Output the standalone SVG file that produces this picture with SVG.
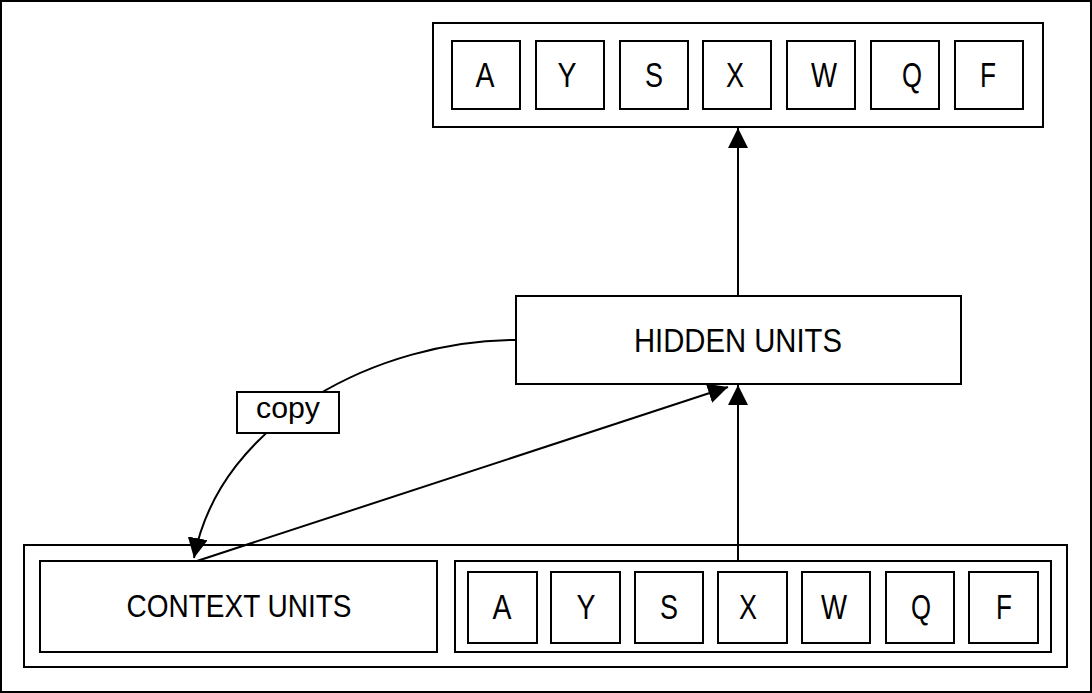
<svg xmlns="http://www.w3.org/2000/svg" width="1092" height="693" viewBox="0 0 1092 693">
<style>
.box{fill:#fff;stroke:#000;stroke-width:2}
.frame{fill:none;stroke:#000;stroke-width:2}
.edge{fill:none;stroke:#000;stroke-width:2}
.t{font-family:"Liberation Sans",Arial,sans-serif;font-size:33px;fill:#000;text-anchor:middle}
.c{font-family:"Liberation Sans",Arial,sans-serif;font-size:31px;fill:#000;text-anchor:middle}
.p{font-family:"Liberation Sans",Arial,sans-serif;font-size:29px;fill:#000;text-anchor:middle}
.l{font-family:"Liberation Sans",Arial,sans-serif;font-size:35px;fill:#000;text-anchor:middle}
</style>
<defs>
<marker id="arr" markerUnits="userSpaceOnUse" markerWidth="20" markerHeight="20" refX="18" refY="9" orient="auto" viewBox="0 0 18 18">
<path d="M0,0 L18,9 L0,18 z" fill="#000"/>
</marker>
</defs>
<rect x="1" y="1" width="1090" height="691" fill="#fff" stroke="#000" stroke-width="2"/>
<g id="connectors">
<line class="edge" x1="738" y1="296" x2="738" y2="128" marker-end="url(#arr)"/>
<line class="edge" x1="738" y1="561" x2="738" y2="385" marker-end="url(#arr)"/>
<line class="edge" x1="197" y1="561" x2="728" y2="387" marker-end="url(#arr)"/>
<path class="edge" d="M516,340 C380,340 220,420 194,558" marker-end="url(#arr)"/>
</g>
<g id="output">
<rect class="frame" x="433" y="23" width="610" height="104"/>
<g id="out-A"><rect class="box" x="452" y="41" width="68" height="68"/><text class="l" x="485" y="87" textLength="19" lengthAdjust="spacingAndGlyphs">A</text></g>
<g id="out-Y"><rect class="box" x="536" y="41" width="68" height="68"/><text class="l" x="567" y="87" textLength="19" lengthAdjust="spacingAndGlyphs">Y</text></g>
<g id="out-S"><rect class="box" x="620" y="41" width="68" height="68"/><text class="l" x="654" y="87" textLength="18" lengthAdjust="spacingAndGlyphs">S</text></g>
<g id="out-X"><rect class="box" x="703" y="41" width="68" height="68"/><text class="l" x="735" y="87" textLength="18" lengthAdjust="spacingAndGlyphs">X</text></g>
<g id="out-W"><rect class="box" x="787" y="41" width="68" height="68"/><text class="l" x="824" y="87" textLength="26" lengthAdjust="spacingAndGlyphs">W</text></g>
<g id="out-Q"><rect class="box" x="871" y="41" width="68" height="68"/><text class="l" x="912" y="87" textLength="20" lengthAdjust="spacingAndGlyphs">Q</text></g>
<g id="out-F"><rect class="box" x="955" y="41" width="68" height="68"/><text class="l" x="988" y="87" textLength="16" lengthAdjust="spacingAndGlyphs">F</text></g>
</g>
<g id="hidden">
<rect class="box" x="516" y="296" width="445" height="88"/>
<text class="t" x="738" y="352" textLength="208" lengthAdjust="spacingAndGlyphs">HIDDEN UNITS</text>
</g>
<g id="copy">
<rect class="box" x="237" y="392" width="102" height="41"/>
<text class="p" x="288" y="418" textLength="64" lengthAdjust="spacingAndGlyphs">copy</text>
</g>
<g id="input">
<rect class="frame" x="24" y="545" width="1043" height="122"/>
<g id="context">
<rect class="box" x="40" y="561" width="397" height="91"/>
<text class="c" x="239" y="617" textLength="225" lengthAdjust="spacingAndGlyphs">CONTEXT UNITS</text>
</g>
<rect class="frame" x="455" y="561" width="596" height="91"/>
<g id="in-A"><rect class="box" x="468" y="572" width="69" height="71"/><text class="l" x="502" y="619" textLength="19" lengthAdjust="spacingAndGlyphs">A</text></g>
<g id="in-Y"><rect class="box" x="551" y="572" width="69" height="71"/><text class="l" x="586" y="619" textLength="19" lengthAdjust="spacingAndGlyphs">Y</text></g>
<g id="in-S"><rect class="box" x="635" y="572" width="68" height="71"/><text class="l" x="669" y="619" textLength="18" lengthAdjust="spacingAndGlyphs">S</text></g>
<g id="in-X"><rect class="box" x="718" y="572" width="69" height="71"/><text class="l" x="748" y="619" textLength="18" lengthAdjust="spacingAndGlyphs">X</text></g>
<g id="in-W"><rect class="box" x="802" y="572" width="68" height="71"/><text class="l" x="834" y="619" textLength="26" lengthAdjust="spacingAndGlyphs">W</text></g>
<g id="in-Q"><rect class="box" x="886" y="572" width="68" height="71"/><text class="l" x="921" y="619" textLength="20" lengthAdjust="spacingAndGlyphs">Q</text></g>
<g id="in-F"><rect class="box" x="969" y="572" width="69" height="71"/><text class="l" x="1004" y="619" textLength="16" lengthAdjust="spacingAndGlyphs">F</text></g>
</g>
</svg>
